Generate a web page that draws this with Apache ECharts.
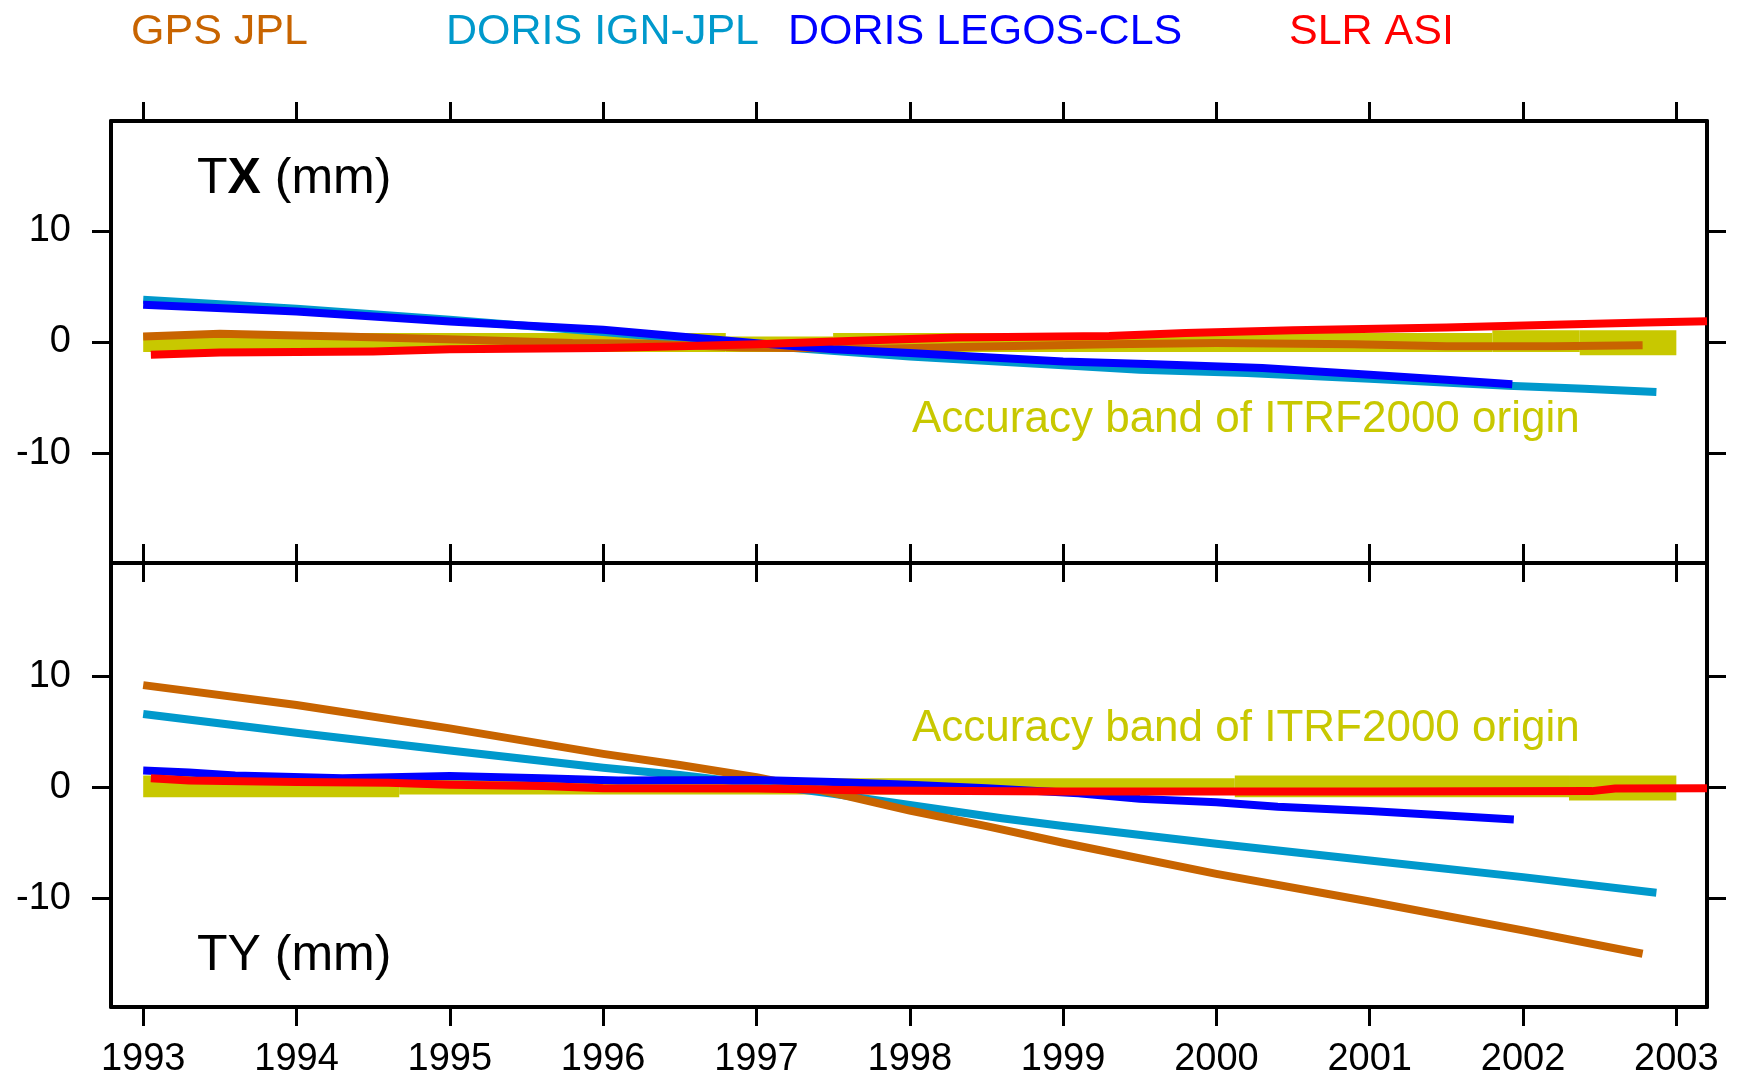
<!DOCTYPE html>
<html>
<head>
<meta charset="utf-8">
<title>TX / TY geocenter time series</title>
<script src="https://cdn.jsdelivr.net/npm/echarts@6/dist/echarts.min.js"></script>
<style>
  html, body { margin: 0; padding: 0; background: #fff; }
  #chart { width: 1740px; height: 1081px; }
</style>
</head>
<body>
<div id="chart"></div>
<script>
// Axis ticks
const xTicks = [1993, 1994, 1995, 1996, 1997, 1998, 1999, 2000, 2001, 2002, 2003];
const yTicks = [-10, 0, 10];

// Series names (legend)
const names = ['GPS JPL', 'DORIS IGN-JPL', 'DORIS LEGOS-CLS', 'SLR ASI'];
const bandText = 'Accuracy band of ITRF2000 origin';

// TX (mm): [year, value]
const gpsJplTX = [[1993.0, 0.5], [1993.5, 0.75], [1994.3, 0.5], [1995.1, 0.2], [1995.8, -0.1], [1996.3, -0.15],
  [1996.9, -0.5], [1997.8, -0.6], [1998.5, -0.4], [1999.3, -0.2], [2000.0, -0.1], [2000.9, -0.2],
  [2001.5, -0.38], [2002.2, -0.38], [2002.78, -0.3]];
const dorisIgnTX = [[1993.0, 3.8], [1994.0, 3.0], [1995.0, 2.0], [1996.0, 0.9], [1997.0, -0.3], [1998.0, -1.3],
  [1999.0, -2.1], [1999.5, -2.5], [2000.2, -2.8], [2001.0, -3.3], [2001.9, -3.95], [2002.4, -4.2], [2002.87, -4.5]];
const dorisLegosTX = [[1993.0, 3.35], [1994.0, 2.75], [1995.0, 1.85], [1996.0, 1.1], [1996.5, 0.5], [1997.0, -0.1],
  [1997.5, -0.65], [1998.0, -1.0], [1999.0, -1.75], [1999.6, -2.0], [2000.3, -2.35], [2001.0, -2.95],
  [2001.5, -3.4], [2001.93, -3.8]];
const slrAsiTX = [[1993.05, -1.15], [1993.5, -0.95], [1994.5, -0.85], [1995.0, -0.65], [1996.0, -0.55], [1996.5, -0.38],
  [1997.0, -0.2], [1997.6, 0.1], [1998.3, 0.4], [1999.3, 0.55], [1999.8, 0.8], [2000.5, 1.05], [2001.5, 1.3],
  [2002.2, 1.55], [2002.8, 1.75], [2003.2, 1.87]];

// TY (mm): [year, value]
const gpsJplTY = [[1993.0, 9.2], [1994.0, 7.4], [1995.0, 5.3], [1996.0, 3.0], [1996.5, 2.0], [1997.0, 0.9],
  [1997.5, -0.5], [1998.0, -2.1], [1998.5, -3.5], [1999.0, -5.0], [2000.0, -7.8], [2001.0, -10.3],
  [2002.0, -12.9], [2002.78, -15.0]];
const dorisIgnTY = [[1993.0, 6.6], [1994.0, 4.9], [1995.0, 3.3], [1996.0, 1.75], [1996.5, 1.1], [1997.0, 0.3],
  [1997.5, -0.6], [1998.0, -1.6], [1998.6, -2.8], [1999.0, -3.5], [2000.0, -5.1], [2001.0, -6.6],
  [2002.0, -8.1], [2002.87, -9.5]];
const dorisLegosTY = [[1993.0, 1.5], [1993.3, 1.33], [1993.6, 1.06], [1994.3, 0.8], [1995.0, 1.0], [1995.6, 0.8],
  [1996.1, 0.6], [1997.0, 0.65], [1997.5, 0.48], [1998.0, 0.22], [1998.5, -0.1], [1999.1, -0.55],
  [1999.5, -1.05], [2000.0, -1.35], [2000.4, -1.75], [2001.0, -2.15], [2001.5, -2.55], [2001.94, -2.9]];
const slrAsiTY = [[1993.05, 0.8], [1993.3, 0.6], [1994.0, 0.48], [1994.6, 0.4], [1995.0, 0.22], [1995.6, 0.1],
  [1996.0, -0.1], [1997.0, -0.12], [1997.75, -0.3], [1999.0, -0.38], [2001.0, -0.38], [2002.45, -0.35],
  [2002.6, -0.12], [2003.2, -0.1]];

// ITRF2000 origin accuracy band: [start year, end year, lower mm, upper mm]
const bandTX = [[1993, 1996.8, -0.9, 0.8], [1996.8, 1997.5, -0.9, 0.5], [1997.5, 2001.8, -0.9, 0.8],
  [2001.8, 2002.37, -0.9, 1.05], [2002.37, 2003, -1.2, 1.05]];
const bandTY = [[1993, 1994.67, -0.9, 1.05], [1994.67, 2000.12, -0.65, 0.8], [2000.12, 2002.3, -0.9, 1.05],
  [2002.3, 2003, -1.2, 1.05]];

const colors = { gps: '#c86400', ign: '#0099cc', legos: '#0000ff', slr: '#ff0000', band: '#c8c800' };
const FONT = '"Liberation Sans", Arial, Helvetica, sans-serif';

const X_MIN = 1992.79, X_MAX = 2003.2;

function xAxis(gridIndex, position, tickInside, withLabels) {
  return {
    type: 'value', gridIndex, position, min: X_MIN, max: X_MAX,
    axisLine: { show: true, onZero: false, lineStyle: { color: '#000', width: 4 } },
    axisTick: { show: true, inside: tickInside, length: 19, customValues: xTicks, lineStyle: { color: '#000', width: 3 } },
    axisLabel: withLabels
      ? { show: true, customValues: xTicks, margin: 34, color: '#000', fontSize: 38, fontFamily: FONT, formatter: v => String(v) }
      : { show: false },
    splitLine: { show: false }
  };
}

function yAxis(gridIndex, position, min, max, withLabels) {
  return {
    type: 'value', gridIndex, position, min, max,
    axisLine: { show: true, onZero: false, lineStyle: { color: '#000', width: 4 } },
    axisTick: { show: true, inside: false, length: 19, customValues: yTicks, lineStyle: { color: '#000', width: 3 } },
    axisLabel: withLabels
      ? { show: true, customValues: yTicks, margin: 40, color: '#000', fontSize: 38, fontFamily: FONT }
      : { show: false },
    splitLine: { show: false }
  };
}

function lineSeries(name, color, data, panel) {
  return {
    type: 'line', name, data,
    xAxisIndex: panel === 0 ? 0 : 3,
    yAxisIndex: panel === 0 ? 0 : 2,
    showSymbol: false, symbol: 'none', silent: true,
    lineStyle: { color, width: 8, cap: 'butt', join: 'miter' },
    itemStyle: { color },
    z: 3
  };
}

function bandSeries(data, panel) {
  return {
    type: 'custom', name: 'ITRF2000 origin', data,
    xAxisIndex: panel === 0 ? 0 : 3,
    yAxisIndex: panel === 0 ? 0 : 2,
    encode: { x: [0, 1], y: [2, 3] },
    silent: true, z: 2,
    renderItem(params, api) {
      const p0 = api.coord([api.value(0), api.value(3)]);
      const p1 = api.coord([api.value(1), api.value(2)]);
      return {
        type: 'rect',
        shape: { x: p0[0], y: p0[1], width: p1[0] - p0[0], height: p1[1] - p0[1] },
        style: { fill: colors.band }
      };
    }
  };
}

function legendAt(name, color, left) {
  return {
    data: [{ name, textStyle: { color } }],
    left, top: 11, padding: 0,
    itemWidth: 0, itemHeight: 0, icon: 'rect',
    selectedMode: true,
    textStyle: { fontSize: 43, fontFamily: FONT, color }
  };
}

const chart = echarts.init(document.getElementById('chart'), null, { renderer: 'canvas' });

chart.setOption({
  animation: false,
  backgroundColor: '#fff',
  legend: [
    legendAt(names[0], colors.gps, 126),
    legendAt(names[1], colors.ign, 441),
    legendAt(names[2], colors.legos, 783),
    legendAt(names[3], colors.slr, 1284)
  ],
  grid: [
    { left: 111, top: 121, width: 1596, height: 442, containLabel: false },
    { left: 111, top: 563, width: 1596, height: 444, containLabel: false }
  ],
  xAxis: [
    xAxis(0, 'top', false, false),
    xAxis(0, 'bottom', true, false),
    xAxis(1, 'top', true, false),
    xAxis(1, 'bottom', false, true)
  ],
  yAxis: [
    yAxis(0, 'left', -19.9, 19.9, true),
    yAxis(0, 'right', -19.9, 19.9, false),
    yAxis(1, 'left', -19.8, 20.2, true),
    yAxis(1, 'right', -19.8, 20.2, false)
  ],
  graphic: [
    {
      type: 'text', left: 197, top: 154, z: 10,
      style: {
        text: '{a|T}{b|X}{a| (mm)}',
        rich: {
          a: { fontSize: 50, fontFamily: FONT, fill: '#000' },
          b: { fontSize: 50, fontFamily: FONT, fontWeight: 'bold', fill: '#000' }
        }
      }
    },
    {
      type: 'text', left: 197, top: 931, z: 10,
      style: { text: 'TY (mm)', fontSize: 50, fontFamily: FONT, fill: '#000' }
    },
    {
      type: 'text', left: 912, top: 398, z: 10,
      style: { text: bandText, fontSize: 44, fontFamily: FONT, fill: colors.band }
    },
    {
      type: 'text', left: 912, top: 707, z: 10,
      style: { text: bandText, fontSize: 44, fontFamily: FONT, fill: colors.band }
    }
  ],
  series: [
    bandSeries(bandTX, 0),
    bandSeries(bandTY, 1),
    lineSeries(names[1], colors.ign, dorisIgnTX, 0),
    lineSeries(names[1], colors.ign, dorisIgnTY, 1),
    lineSeries(names[0], colors.gps, gpsJplTX, 0),
    lineSeries(names[0], colors.gps, gpsJplTY, 1),
    lineSeries(names[2], colors.legos, dorisLegosTX, 0),
    lineSeries(names[2], colors.legos, dorisLegosTY, 1),
    lineSeries(names[3], colors.slr, slrAsiTX, 0),
    lineSeries(names[3], colors.slr, slrAsiTY, 1)
  ]
});
</script>
</body>
</html>
